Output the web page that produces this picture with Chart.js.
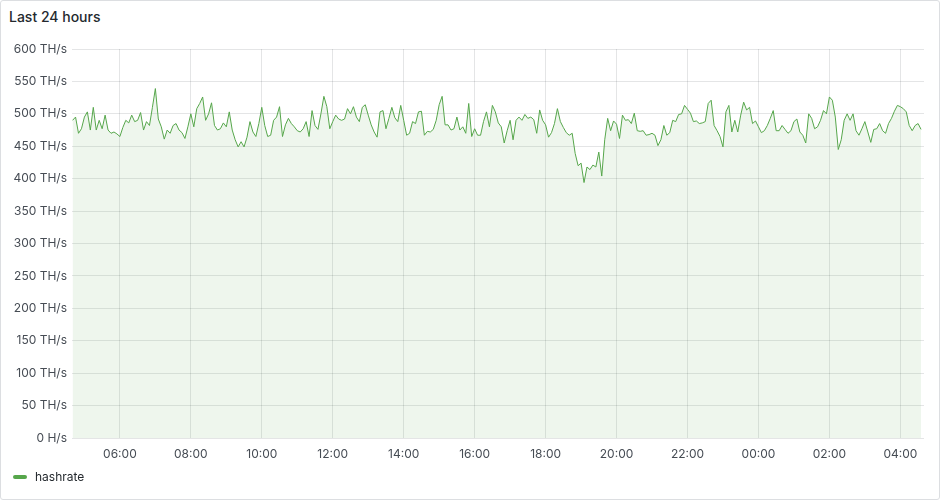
<!DOCTYPE html>
<html>
<head>
<meta charset="utf-8">
<script src="https://cdn.jsdelivr.net/npm/chart.js@4"></script>
<style>
  html, body { margin: 0; padding: 0; background: #fff; }
  body { width: 940px; height: 500px; overflow: hidden; font-family: Inter, "Noto Sans", sans-serif; position: relative; }
  .panel { position: absolute; left: 0; top: 0; width: 938px; height: 498px; border: 1px solid #dcdee1; border-radius: 3px; }
  .title { position: absolute; left: 9px; top: 8px; font-size: 14px; line-height: 17px; font-weight: 500; color: #24292e; }
  #chart { position: absolute; left: 0; top: 0; }
  .legend { position: absolute; left: 13px; top: 468px; font-size: 12px; line-height: 17px; color: #24292e; display: flex; align-items: center; }
  .legend i { display: inline-block; width: 14px; height: 4px; border-radius: 2px; background: #56a64b; margin-right: 8px; }
</style>
</head>
<body>
<div class="panel"></div>
<div class="title">Last 24 hours</div>
<canvas id="chart" width="940" height="500"></canvas>
<div class="legend"><i></i>hashrate</div>
<script>
// samples every 5 minutes, first one at 04:40
const startMinute = 280;
const stepMinutes = 5;
const hashrate = [
  490,495,470,477,495,503,475,510,475,490,477,498,475,470,472,469,465,479,490,486,498,488,490,502,475,488,482,510,539,492,480,461,475,470,482,485,
  475,471,462,480,500,480,508,516,526,490,500,517,482,475,477,486,480,503,475,460,449,457,449,464,488,472,465,485,510,482,465,467,490,495,511,465,
  483,493,485,480,474,472,477,488,465,505,482,476,500,527,511,477,488,498,492,490,492,508,500,511,495,488,510,514,498,483,472,464,503,505,477,493,
  510,494,488,513,490,467,470,488,485,503,504,467,473,472,476,490,514,527,483,483,475,477,495,475,480,470,516,465,477,467,467,488,503,480,513,503,
  486,480,455,474,490,460,490,495,490,499,493,495,491,470,506,490,483,464,471,485,508,488,479,471,467,470,439,420,424,394,418,414,421,418,441,404,
  460,493,474,489,484,462,498,490,491,485,501,474,473,474,467,468,470,467,451,460,482,467,471,490,488,499,500,513,507,501,488,489,485,486,488,516,
  521,482,474,465,449,503,513,472,490,472,498,518,506,510,485,489,480,471,474,482,493,505,474,474,482,476,470,474,488,492,472,467,455,500,493,477,
  480,490,505,500,526,521,495,445,460,490,500,490,500,474,467,477,488,472,456,476,477,485,474,470,485,493,504,513,511,508,503,482,474,482,485,476
];
// x tick positions in minutes after midnight of the first day
const xTicks = [360, 480, 600, 720, 840, 960, 1080, 1200, 1320, 1440, 1560, 1680];
const yTicks = [0, 50, 100, 150, 200, 250, 300, 350, 400, 450, 500, 550, 600];

const textColor = '#464c54';
const gridColor = 'rgba(36, 41, 46, 0.12)';
const tickFont = { family: 'Inter', size: 12 };

function clock(min) {
  const m = ((min % 1440) + 1440) % 1440;
  const h = Math.floor(m / 60);
  const mm = m % 60;
  return String(h).padStart(2, '0') + ':' + String(mm).padStart(2, '0');
}

const points = hashrate.map((v, i) => ({ x: startMinute + i * stepMinutes, y: v }));

const ctx = document.getElementById('chart').getContext('2d');
new Chart(ctx, {
  type: 'line',
  data: {
    datasets: [{
      label: 'hashrate',
      data: points,
      borderColor: '#56a64b',
      borderWidth: 1,
      backgroundColor: 'rgba(86, 166, 75, 0.1)',
      fill: 'origin',
      pointRadius: 0,
      tension: 0
    }]
  },
  options: {
    responsive: false,
    animation: false,
    layout: { padding: { left: 0, right: 16, top: 49, bottom: 0 } },
    plugins: {
      legend: { display: false },
      tooltip: { enabled: false }
    },
    scales: {
      x: {
        type: 'linear',
        min: 279,
        max: 1720,
        afterBuildTicks: s => { s.ticks = xTicks.map(v => ({ value: v })); },
        afterFit: s => { s.height = 62; },
        ticks: { callback: v => clock(v), padding: 9, maxRotation: 0, autoSkip: false, color: textColor, font: tickFont },
        grid: { color: gridColor, drawTicks: false },
        border: { display: false }
      },
      y: {
        min: 0,
        max: 600,
        afterBuildTicks: s => { s.ticks = yTicks.map(v => ({ value: v })); },
        afterFit: s => { s.width = 72; },
        ticks: { callback: v => v === 0 ? '0 H/s' : v + ' TH/s', padding: 5, color: textColor, font: tickFont },
        grid: { color: gridColor, drawTicks: false },
        border: { display: false }
      }
    }
  }
});
</script>
</body>
</html>
